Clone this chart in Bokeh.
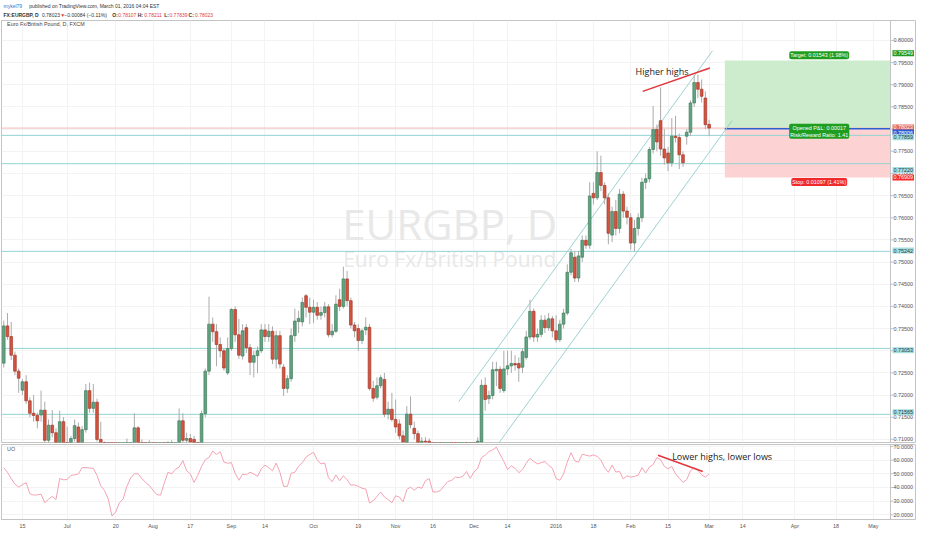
from bokeh.plotting import figure
from bokeh.layouts import column
from bokeh.models import Range1d, FixedTicker, PrintfTickFormatter, Label, ColumnDataSource, Grid
from bokeh.core.properties import value
from bokeh.embed import file_html
from bokeh.resources import INLINE

# ---------------- data ----------------
opens = [
0.7272,0.7356,0.7332,0.7290,0.7254,0.7211,0.7230,0.7187,0.7159,0.7154,
0.7155,0.7166,0.7098,0.7132,0.7115,0.7075,0.7140,0.7085,0.7078,0.7102,
0.7128,0.7082,0.7122,0.7210,0.7170,0.7184,0.7100,0.7092,0.7050,0.7000,
0.6960,0.6945,0.6990,0.7030,0.7060,0.7080,0.7126,0.7085,0.7070,0.7055,
0.7060,0.7050,0.7065,0.7070,0.7060,0.7075,0.7080,0.7085,0.7142,0.7098,
0.7102,0.7100,0.7088,0.7085,0.7158,0.7254,0.7360,0.7343,0.7314,0.7300,
0.7250,0.7305,0.7393,0.7336,0.7288,0.7352,0.7307,0.7274,0.7289,0.7300,
0.7347,0.7332,0.7344,0.7281,0.7334,0.7263,0.7215,0.7237,0.7334,0.7366,
0.7365,0.7424,0.7398,0.7387,0.7398,0.7380,0.7386,0.7399,0.7336,0.7344,
0.7415,0.7400,0.7462,0.7413,0.7358,0.7350,0.7323,0.7347,0.7353,0.7215,
0.7195,0.7221,0.7235,0.7157,0.7168,0.7145,0.7135,0.7108,0.7093,0.7157,
0.7125,0.7113,0.7092,0.7096,0.7096,0.7080,0.7050,0.7060,0.7045,0.7065,
0.7075,0.7070,0.7050,0.7072,0.7080,0.7060,0.7075,0.7070,0.7094,0.7222,
0.7192,0.7199,0.7255,0.7258,0.7210,0.7259,0.7266,0.7271,0.7271,0.7263,
0.7285,0.7331,0.7389,0.7331,0.7337,0.7369,0.7352,0.7372,0.7345,0.7325,
0.7360,0.7385,0.7477,0.7511,0.7464,0.7511,0.7549,0.7538,0.7655,0.7645,
0.7702,0.7673,0.7645,0.7561,0.7614,0.7576,0.7653,0.7615,0.7600,0.7543,
0.7576,0.7600,0.7680,0.7688,0.7754,0.7799,0.7819,0.7755,0.7746,0.7724,
0.7784,0.7781,0.7742,0.7784,0.7793,0.7859,0.7905,0.7890,0.7870,0.78107]

highs = [
0.7368,0.7385,0.7365,0.7298,0.7260,0.7236,0.7245,0.7195,0.7200,0.7160,
0.7210,0.7185,0.7145,0.7166,0.7125,0.7165,0.7150,0.7129,0.7108,0.7145,
0.7138,0.7130,0.7225,0.7228,0.7225,0.7192,0.7140,0.7095,0.7060,0.7010,
0.6980,0.7000,0.7050,0.7102,0.7090,0.7159,0.7130,0.7100,0.7085,0.7098,
0.7080,0.7085,0.7088,0.7085,0.7096,0.7098,0.7092,0.7170,0.7159,0.7115,
0.7112,0.7108,0.7095,0.7165,0.7260,0.7422,0.7375,0.7360,0.7330,0.7305,
0.7330,0.7396,0.7400,0.7372,0.7360,0.7360,0.7315,0.7300,0.7310,0.7360,
0.7360,0.7360,0.7355,0.7345,0.7345,0.7270,0.7245,0.7350,0.7395,0.7390,
0.7420,0.7428,0.7420,0.7415,0.7410,0.7400,0.7410,0.7405,0.7360,0.7425,
0.7440,0.7490,0.7480,0.7420,0.7365,0.7360,0.7350,0.7375,0.7360,0.7232,
0.7240,0.7245,0.7250,0.7185,0.7205,0.7190,0.7145,0.7120,0.7175,0.7197,
0.7140,0.7120,0.7105,0.7105,0.7102,0.7090,0.7075,0.7085,0.7070,0.7088,
0.7090,0.7085,0.7080,0.7088,0.7091,0.7085,0.7090,0.7105,0.7235,0.7240,
0.7210,0.7275,0.7275,0.7265,0.7300,0.7300,0.7300,0.7290,0.7285,0.7305,
0.7345,0.7415,0.7395,0.7350,0.7380,0.7380,0.7385,0.7378,0.7380,0.7370,
0.7395,0.7495,0.7530,0.7525,0.7525,0.7560,0.7560,0.7680,0.7680,0.7750,
0.7740,0.7680,0.7655,0.7625,0.7640,0.7665,0.7660,0.7625,0.7610,0.7595,
0.7610,0.7690,0.7700,0.7760,0.7852,0.7810,0.7894,0.7800,0.7760,0.7825,
0.7830,0.7790,0.7750,0.7800,0.7865,0.7922,0.7923,0.7912,0.7885,0.78211]

lows = [
0.7262,0.7325,0.7279,0.7245,0.7205,0.7200,0.7180,0.7150,0.7140,0.7125,
0.7140,0.7090,0.7085,0.7105,0.7060,0.7065,0.7070,0.7060,0.7070,0.7095,
0.7075,0.7075,0.7115,0.7160,0.7160,0.7095,0.7070,0.7040,0.6990,0.6950,
0.6935,0.6940,0.6980,0.7020,0.7050,0.7070,0.7075,0.7060,0.7045,0.7040,
0.7040,0.7040,0.7050,0.7045,0.7050,0.7060,0.7055,0.7075,0.7090,0.7085,
0.7085,0.7080,0.7070,0.7080,0.7150,0.7245,0.7320,0.7265,0.7285,0.7255,
0.7245,0.7300,0.7320,0.7282,0.7280,0.7295,0.7245,0.7240,0.7250,0.7295,
0.7320,0.7320,0.7270,0.7260,0.7260,0.7198,0.7205,0.7230,0.7320,0.7340,
0.7355,0.7375,0.7360,0.7362,0.7370,0.7370,0.7375,0.7330,0.7330,0.7340,
0.7390,0.7395,0.7400,0.7350,0.7330,0.7300,0.7315,0.7335,0.7210,0.7185,
0.7190,0.7215,0.7150,0.7145,0.7140,0.7115,0.7100,0.7085,0.7085,0.7125,
0.7100,0.7080,0.7075,0.7080,0.7070,0.7040,0.7035,0.7040,0.7030,0.7050,
0.7055,0.7040,0.7045,0.7060,0.7055,0.7040,0.7060,0.7060,0.7090,0.7165,
0.7180,0.7190,0.7220,0.7205,0.7205,0.7245,0.7250,0.7255,0.7230,0.7250,
0.7280,0.7325,0.7320,0.7320,0.7330,0.7340,0.7345,0.7330,0.7318,0.7320,
0.7350,0.7380,0.7470,0.7455,0.7455,0.7500,0.7530,0.7530,0.7630,0.7640,
0.7660,0.7630,0.7540,0.7545,0.7560,0.7565,0.7600,0.7585,0.7528,0.7524,
0.7560,0.7590,0.7665,0.7680,0.7745,0.7750,0.7740,0.7720,0.7705,0.7715,
0.7770,0.7710,0.7715,0.7765,0.7785,0.7850,0.7870,0.7860,0.7800,0.77839]

closes = [
0.7356,0.7332,0.7290,0.7254,0.7238,0.7230,0.7187,0.7159,0.7154,0.7142,
0.7166,0.7098,0.7132,0.7115,0.7080,0.7140,0.7085,0.7078,0.7102,0.7131,
0.7082,0.7122,0.7210,0.7170,0.7184,0.7100,0.7092,0.7050,0.7000,0.6960,
0.6945,0.6990,0.7030,0.7060,0.7080,0.7126,0.7085,0.7070,0.7055,0.7060,
0.7050,0.7065,0.7070,0.7060,0.7075,0.7080,0.7085,0.7142,0.7098,0.7102,
0.7094,0.7088,0.7085,0.7158,0.7254,0.7360,0.7343,0.7314,0.7300,0.7261,
0.7305,0.7393,0.7336,0.7290,0.7345,0.7307,0.7274,0.7289,0.7300,0.7347,
0.7332,0.7344,0.7281,0.7334,0.7270,0.7215,0.7237,0.7334,0.7367,0.7373,
0.7409,0.7398,0.7387,0.7398,0.7380,0.7386,0.7399,0.7336,0.7344,0.7405,
0.7400,0.7462,0.7413,0.7358,0.7345,0.7323,0.7345,0.7353,0.7215,0.7193,
0.7221,0.7239,0.7157,0.7168,0.7145,0.7128,0.7108,0.7094,0.7157,0.7133,
0.7113,0.7092,0.7096,0.7094,0.7080,0.7050,0.7060,0.7045,0.7065,0.7075,
0.7070,0.7050,0.7072,0.7080,0.7060,0.7075,0.7070,0.7096,0.7222,0.7190,
0.7199,0.7257,0.7258,0.7215,0.7259,0.7266,0.7271,0.7268,0.7261,0.7298,
0.7331,0.7389,0.7331,0.7337,0.7369,0.7352,0.7372,0.7345,0.7325,0.7360,
0.7385,0.7477,0.7521,0.7464,0.7514,0.7549,0.7538,0.7649,0.7645,0.7702,
0.7673,0.7645,0.7565,0.7614,0.7576,0.7653,0.7615,0.7601,0.7543,0.7576,
0.7600,0.7680,0.7688,0.7754,0.7799,0.7771,0.7755,0.7735,0.7724,0.7784,
0.7781,0.7742,0.7724,0.7793,0.7859,0.7905,0.7890,0.7874,0.7810,0.78023]

uo = [
54.5,51.1,46.5,42.4,40.3,42.1,43.5,35.5,34.4,34.6,
35.1,28.9,31.4,33.5,31.2,46.5,45.6,45.8,48.8,49.2,
49.9,54.5,54.5,54.2,54.0,48.8,41.2,37.8,31.6,19.1,
22.1,28.9,31.6,40.8,46.9,50.1,49.9,46.5,43.7,41.5,
38.0,34.8,34.4,43.1,51.1,49.9,53.3,54.9,59.7,52.2,
49.9,43.7,48.8,55.4,60.2,62.0,66.6,64.1,66.1,58.6,
57.7,58.1,50.4,45.3,49.7,49.2,51.1,49.9,48.1,53.6,
56.3,54.5,52.2,57.9,51.1,40.8,40.8,50.4,51.1,55.6,
58.1,62.2,64.1,65.7,60.2,57.2,57.9,47.2,44.2,49.2,
44.9,48.5,45.8,41.7,41.9,40.8,39.4,38.9,28.7,30.3,
33.5,36.7,33.0,31.2,28.9,33.9,33.0,29.4,38.5,40.3,
38.0,40.3,39.4,44.9,46.5,36.7,36.7,37.8,41.2,44.4,
45.1,47.6,47.2,48.1,51.7,46.7,51.3,54.0,61.8,63.6,
66.3,67.5,69.5,64.1,59.0,53.1,55.8,54.0,50.8,53.1,
57.7,61.3,59.0,57.2,58.1,59.0,56.3,54.0,46.5,45.3,
49.9,58.6,65.4,59.5,58.4,64.3,63.6,62.9,63.8,62.7,
60.0,54.5,51.1,56.3,51.3,51.7,46.3,48.5,47.6,48.1,
49.0,54.5,50.6,54.9,56.8,61.8,60.4,55.4,53.6,55.4,
49.9,46.7,43.7,45.8,52.2,54.5,52.6,49.2,47.6,49.9]

# date ticks (bar index) and their labels
tick_idx = [5, 17, 30, 40, 50, 61, 70, 83, 95, 105, 115, 126, 135, 148, 158, 168, 178, 189, 198, 212, 223, 233]
tick_lbl = ["15", "Jul", "20", "Aug", "17", "Sep", "14", "Oct", "19", "Nov", "16", "Dec", "14",
            "2016", "18", "Feb", "15", "Mar", "14", "Apr", "18", "May"]
price_ticks = [0.710, 0.715, 0.720, 0.725, 0.730, 0.735, 0.740, 0.745, 0.750, 0.755,
               0.760, 0.765, 0.770, 0.775, 0.780, 0.785, 0.790, 0.795, 0.800]
uo_ticks = [20, 30, 40, 50, 60, 70]

h_levels = [0.77859, 0.77220, 0.75242, 0.73053, 0.71565]
last_price = 0.78023
entry, target, stop = 0.78006, 0.79549, 0.76909
pos_start = 193.2
chan_up_x, chan_up_y = [121.9, 189.9], [0.71850, 0.79765]
chan_lo_x, chan_lo_y = [132.0, 195.2], [0.70842, 0.78195]
hh_x, hh_y = [171.2, 189.2], [0.78852, 0.79379]
lh_x, lh_y = [175.3, 187.3], [63.6, 51.7]

tag_prices = [0.79549, 0.78023, 0.78006, 0.77859, 0.77220, 0.76909, 0.75242, 0.73053, 0.71565]

# ---------------- styling / layout ----------------
W = 916
PLOT_PX = 889            # width of the candle area (left border to price-axis line)
FRAME_PX = W - 2         # frame width (axis labels drawn inside the frame strip)
X0, X_AX = -0.6, 237.6   # bar-index at left edge and at the price-axis line
PXB = PLOT_PX / (X_AX - X0)
X_END = X0 + FRAME_PX / PXB
PY0, PY1 = 0.7093, 0.8045
MAIN_H = 425
MAIN_FRAME_H = MAIN_H - 3
SMALL = "5.4px"
FONT = "Liberation Sans"
GRID = "#f3f3f3"
BORDER = "#c4c4c4"
STANDOFF = -(FRAME_PX - PLOT_PX - 3)

xr = Range1d(X0, X_END)


def style_price_axis(ax):
    ax.axis_line_color = None
    ax.major_tick_line_color = None
    ax.major_tick_out = 0
    ax.major_tick_in = 0
    ax.minor_tick_line_color = None
    ax.major_label_text_font = FONT
    ax.major_label_text_font_size = SMALL
    ax.major_label_text_color = "#555555"
    ax.major_label_standoff = STANDOFF


def axis_strip(fig, y0, y1, ticks):
    fig.segment(x0=[X_AX], x1=[X_AX], y0=[y0], y1=[y1], line_color=BORDER, line_width=1)
    n = len(ticks)
    fig.segment(x0=[X_AX] * n, x1=[X_AX + 3 / PXB] * n, y0=ticks, y1=ticks,
                line_color=BORDER, line_width=1)


# ---- header ----
hdr = figure(width=W, height=19, x_range=Range1d(0, W), y_range=Range1d(19, 0),
             toolbar_location=None, output_backend="svg", x_axis_location=None,
             y_axis_location=None, min_border=0, outline_line_color=None)
hdr.xgrid.visible = False
hdr.ygrid.visible = False
HF = "5px"
BLUE_T, DARK_T, RED_T = "#2f74cc", "#333333", "#e0393e"
hdr_norm = ColumnDataSource(dict(
    x=[2, 27.7, 40.5, 59, 63, 117, 143, 168.3, 194],
    y=[5, 5, 14, 14, 14, 14, 14, 14, 14],
    t=["mykel79", "published on TradingView.com, March 01, 2016 04:04 EST", "0.78023", "\u25bc",
       "\u22120.00084 (\u22120.11%)", "0.78107", "0.78211", "0.77839", "0.78023"],
    c=[BLUE_T, DARK_T, DARK_T, RED_T, DARK_T, RED_T, RED_T, RED_T, RED_T]))
hdr.text(x="x", y="y", text="t", text_color="c", source=hdr_norm, text_font=value(FONT),
         text_font_size=HF, text_baseline="middle", text_align="left")
hdr_bold = ColumnDataSource(dict(
    x=[2, 111, 136.5, 163, 187.5], y=[14, 14, 14, 14, 14],
    t=["FX:EURGBP, D", "O:", "H:", "L:", "C:"]))
hdr.text(x="x", y="y", text="t", source=hdr_bold, text_color=DARK_T, text_font=value(FONT),
         text_font_size=HF, text_font_style="bold", text_baseline="middle", text_align="left")

# ---- main price panel ----
p = figure(width=W, height=MAIN_H, x_range=xr, y_range=Range1d(PY0, PY1),
           toolbar_location=None, output_backend="svg", x_axis_location=None,
           y_axis_location="right", min_border_left=1, min_border_right=1,
           min_border_top=1, min_border_bottom=2, outline_line_color=BORDER)
p.xgrid.visible = False
p.ygrid.ticker = FixedTicker(ticks=price_ticks)
p.ygrid.grid_line_color = GRID
p.add_layout(Grid(dimension=0, ticker=FixedTicker(ticks=tick_idx), grid_line_color=GRID))
p.yaxis.ticker = FixedTicker(ticks=price_ticks)
p.yaxis.formatter = PrintfTickFormatter(format="%.5f")
style_price_axis(p.yaxis[0])

ppp = (PY1 - PY0) / MAIN_FRAME_H  # price per pixel

# watermark
p.text(x=[119.5], y=[0.7588], text=["EURGBP, D"], text_font=value("Open Sans"),
       text_font_size="42px", text_color="#e8e8e8", text_align="center", text_baseline="middle")
p.text(x=[119.5], y=[0.7506], text=["Euro Fx/British Pound"], text_font=value("Open Sans"),
       text_font_size="21px", text_color="#e8e8e8", text_align="center", text_baseline="middle")
p.text(x=[0.9], y=[0.80367], text=["Euro Fx/British Pound, D, FXCM"], text_font=value(FONT),
       text_font_size=SMALL, text_color="#444444", text_align="left", text_baseline="middle")

# long position tool
p.quad(left=[pos_start], right=[X_AX], bottom=[entry], top=[target],
       fill_color="#cdebcd", line_color=None)
p.quad(left=[pos_start], right=[X_AX], bottom=[stop], top=[entry],
       fill_color="#fdd2d2", line_color=None)

# horizontal levels
nl = len(h_levels)
p.segment(x0=[X0] * nl, x1=[X_AX] * nl, y0=h_levels, y1=h_levels, line_color="#93d3d3", line_width=1)
p.segment(x0=[X0], x1=[X_AX], y0=[last_price], y1=[last_price], line_color="#f2b9b9", line_width=1)
p.segment(x0=[pos_start], x1=[X_AX], y0=[entry], y1=[entry], line_color="#2d5fd3", line_width=1.5)

# channel
p.line(chan_up_x, chan_up_y, line_color="#93cccc", line_width=0.9)
p.line(chan_lo_x, chan_lo_y, line_color="#93cccc", line_width=0.9)

# candles
idx = list(range(len(opens)))
p.segment(x0=idx, y0=lows, x1=idx, y1=highs, line_color="#ababab", line_width=1)
up = [i for i in idx if closes[i] >= opens[i]]
dn = [i for i in idx if closes[i] < opens[i]]
src_up = ColumnDataSource(dict(x=up, top=[closes[i] for i in up], bottom=[opens[i] for i in up]))
src_dn = ColumnDataSource(dict(x=dn, top=[opens[i] for i in dn], bottom=[closes[i] for i in dn]))
p.vbar(x="x", width=0.72, top="top", bottom="bottom", source=src_up,
       fill_color="#62a381", line_color="#3f7d5c", line_width=0.7)
p.vbar(x="x", width=0.72, top="top", bottom="bottom", source=src_dn,
       fill_color="#d35440", line_color="#a3392a", line_width=0.7)

# higher highs
p.line(hh_x, hh_y, line_color="#e0353b", line_width=1.5)
p.text(x=[169.3], y=[0.79306], text=["Higher highs"], text_font=value("Open Sans"),
       text_font_size="9px", text_color="#1a1a1a", text_align="left", text_baseline="middle")

# price-axis strip (line + tick marks), labels come from the axis itself
axis_strip(p, PY0, PY1, price_ticks)

# position tool labels
for txt, yv, bg in [("Target: 0.01543 (1.98%)", 0.79664, "#1f9d1f"),
                    ("Opened P&L: 0.00017\nRisk/Reward Ratio: 1.41", 0.77952, "#1f9d1f"),
                    ("Stop: 0.01097 (1.41%)", 0.76806, "#f02a2a")]:
    p.add_layout(Label(x=218.5, y=yv, text=txt, text_font=FONT, text_font_size=SMALL,
                       text_color="white", text_align="center", text_baseline="middle",
                       background_fill_color=bg, background_fill_alpha=1.0,
                       padding=1, border_radius=2))

# price tags on the axis
tag_fill = ["#1f9a1f", "#e0675e", "#2c5fd3", "#a6dede", "#a6dede", "#f52a2a", "#a6dede", "#a6dede", "#a6dede"]
tag_txtc = ["white", "white", "white", "#1d3b4a", "#1d3b4a", "white", "#1d3b4a", "#1d3b4a", "#1d3b4a"]
tag_shift = [7.2, 0.7, -3.7, -1.9, -6.3, 0.0, 0.8, -1.8, 2.0]
for pr, fc, tc, sh in zip(tag_prices, tag_fill, tag_txtc, tag_shift):
    p.add_layout(Label(x=X_AX, y=pr + sh * ppp, x_offset=2, text="%.5f" % pr, text_font=FONT,
                       text_font_size=SMALL, text_color=tc, text_align="left",
                       text_baseline="middle", background_fill_color=fc,
                       background_fill_alpha=1.0, padding=1))

# ---- oscillator panel ----
p2 = figure(width=W, height=88, x_range=xr, y_range=Range1d(16.6, 71.4),
            toolbar_location=None, output_backend="svg", y_axis_location="right",
            min_border_left=1, min_border_right=1, min_border_top=0, min_border_bottom=13,
            outline_line_color=BORDER)
p2.xaxis.ticker = FixedTicker(ticks=tick_idx)
p2.xaxis.major_label_overrides = {t: l for t, l in zip(tick_idx, tick_lbl)}
xa = p2.xaxis[0]
xa.axis_line_color = BORDER
xa.major_tick_line_color = None
xa.major_tick_out = 0
xa.major_tick_in = 0
xa.minor_tick_line_color = None
xa.major_label_text_font = FONT
xa.major_label_text_font_size = SMALL
xa.major_label_text_color = "#555555"
xa.major_label_standoff = 3
p2.yaxis.ticker = FixedTicker(ticks=uo_ticks)
p2.yaxis.formatter = PrintfTickFormatter(format="%.4f")
style_price_axis(p2.yaxis[0])
p2.xgrid.ticker = FixedTicker(ticks=tick_idx)
p2.xgrid.grid_line_color = GRID
p2.ygrid.ticker = FixedTicker(ticks=uo_ticks)
p2.ygrid.grid_line_color = GRID

p2.line(idx, uo, line_color="#f4a2b3", line_width=1)
p2.line(lh_x, lh_y, line_color="#e0353b", line_width=1.5)
p2.text(x=[179.1], y=[62.9], text=["Lower highs, lower lows"], text_font=value("Open Sans"),
        text_font_size="9px", text_color="#1a1a1a", text_align="left", text_baseline="middle")
p2.text(x=[0.9], y=[67.9], text=["UO"], text_font=value(FONT), text_font_size=SMALL,
        text_color="#555555", text_align="left", text_baseline="middle")
axis_strip(p2, 16.6, 71.4, uo_ticks)

layout = column(hdr, p, p2)
open("out.html", "w").write(file_html(layout, INLINE, title="EURGBP"))
